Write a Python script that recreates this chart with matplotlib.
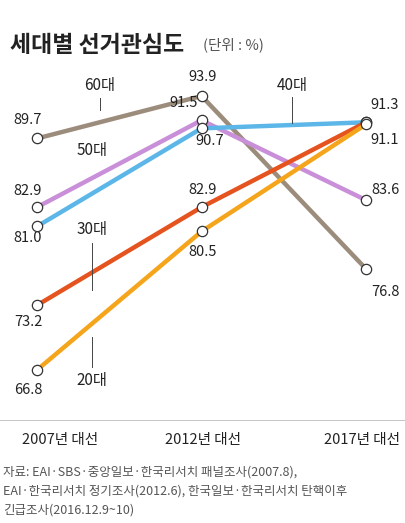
import matplotlib.pyplot as plt

plt.rcParams['font.family'] = ['Noto Sans CJK KR', 'DejaVu Sans']

elections = ["2007년 대선", "2012년 대선", "2017년 대선"]
age_groups = ["60대", "50대", "40대", "30대", "20대"]
s60 = [89.7, 93.9, 76.8]
s50 = [82.9, 91.5, 83.6]
s40 = [81.0, 90.7, 91.3]
s30 = [73.2, 82.9, 91.3]
s20 = [66.8, 80.5, 91.1]
colors = ["#9c8c7c", "#c98fd8", "#5cb6e8", "#e5531f", "#f5a51c"]


# pixel -> data helpers for placing text
def px2x(px):
    return (px - 37) / 164.5


def py2v(py):
    return 93.9 - (py - 96) / 10.11


fig = plt.figure(figsize=(4.05, 5.23), dpi=100)
ax = fig.add_axes([0, 0, 1, 1])
ax.set_xlim(px2x(0), px2x(405))
ax.set_ylim(py2v(523), py2v(0))
ax.axis("off")

xs = [0, 1, 2]
series = [s60, s50, s40, s30, s20]
for vals, c in zip(series, colors):
    ax.plot(xs, vals, color=c, lw=3.2, zorder=2, solid_capstyle="butt")
for vals in series:
    ax.scatter(xs, vals, s=55, facecolor="white", edgecolor="#333333",
               linewidth=0.9, zorder=4)

# connector lines for group labels
lc = "#444444"
ax.plot([px2x(100)] * 2, [py2v(98), py2v(110)], color=lc, lw=0.7)
ax.plot([px2x(292)] * 2, [py2v(97), py2v(123)], color=lc, lw=0.7)
ax.plot([px2x(92)] * 2, [py2v(243), py2v(290)], color=lc, lw=0.7)
ax.plot([px2x(92)] * 2, [py2v(337), py2v(367)], color=lc, lw=0.7)

tk = dict(fontsize=11, color="#222222", ha="center", va="center")
ax.text(px2x(100), py2v(86), age_groups[0], **tk)
ax.text(px2x(92), py2v(150), age_groups[1], **tk)
ax.text(px2x(292), py2v(86), age_groups[2], **tk)
ax.text(px2x(92), py2v(230), age_groups[3], **tk)
ax.text(px2x(92), py2v(380), age_groups[4], **tk)

vk = dict(fontsize=10.5, color="#222222", ha="center", va="center")
label_pos = [
    (s60, [(28, 120), (203, 77), (385, 292)]),
    (s50, [(28, 191), (184, 103), (385, 190)]),
    (s40, [(28, 238), (210, 141), (385, 105)]),
    (s30, [(28, 322), (203, 190), None]),
    (s20, [(28, 390), (203, 252), (385, 140)]),
]
for vals, poss in label_pos:
    for v, p in zip(vals, poss):
        if p is not None:
            ax.text(px2x(p[0]), py2v(p[1]), f"{v:.1f}", **vk)

# separator and x labels
ax.plot([px2x(0), px2x(405)], [py2v(420)] * 2, color="#bbbbbb", lw=0.6)
for x, lab, px in zip(xs, elections, [60, 203, 362]):
    ax.text(px2x(px), py2v(440), lab, fontsize=10.5, color="#222222",
            ha="center", va="center")

fig.text(10 / 405, 1 - 45 / 523, "세대별 선거관심도", fontsize=16.5,
         fontweight="bold", color="#222222", va="center")
fig.text(203 / 405, 1 - 45 / 523, "(단위 : %)", fontsize=10.5,
         color="#555555", va="center")

src = ["자료: EAI·SBS·중앙일보·한국리서치 패널조사(2007.8),",
       "EAI·한국리서치 정기조사(2012.6), 한국일보·한국리서치 탄핵이후",
       "긴급조사(2016.12.9~10)"]
for i, line in enumerate(src):
    fig.text(3 / 405, 1 - (472 + i * 19) / 523, line, fontsize=9,
             color="#555555", va="center")

fig.savefig("out.png", dpi=100)
